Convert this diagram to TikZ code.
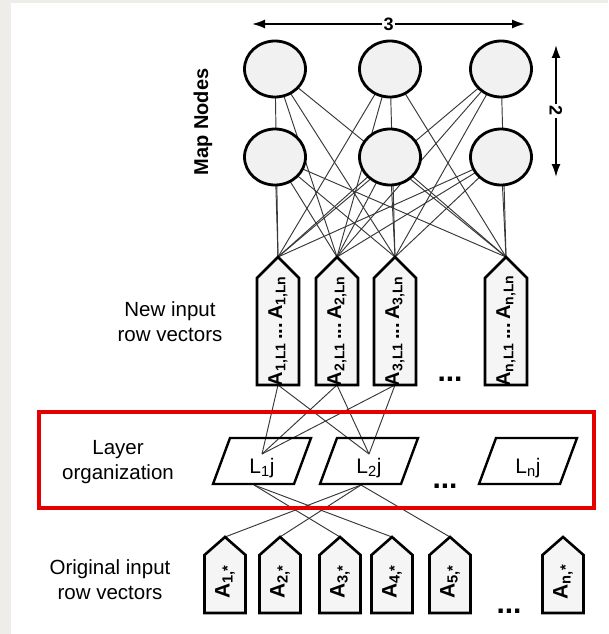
\documentclass[tikz,border=0pt]{standalone}
\usepackage{fontspec}
\setmainfont{Liberation Sans}
\usetikzlibrary{shapes.geometric, arrows.meta, positioning, calc, backgrounds}
\definecolor{framered}{RGB}{228,0,0}
\definecolor{pagegray}{RGB}{238,237,233}
\definecolor{nodegray}{RGB}{241,241,241}
\tikzset{
	mapnode/.style={ellipse, draw, line width=2.8pt, fill=nodegray, minimum width=61pt, minimum height=56pt, inner sep=0pt},
	link/.style={draw, line width=0.95pt, black!78},
	dimarrow/.style={draw, line width=1.8pt, {Latex[length=13pt,width=9pt]}-{Latex[length=13pt,width=9pt]}}
}

\begin{document}
\begin{tikzpicture}[
	x=1pt, y=-1pt,
	% --- Style Definitions ---
	vecbox/.style={line width=2.6pt, fill=nodegray!70},
	layerbox/.style={line width=2.4pt},
	veclabel/.style={rotate=90, font=\fontsize{20}{20}\selectfont\bfseries, inner sep=0pt},
	sidelabel/.style={align=center, font=\fontsize{20.5}{25}\selectfont},
	dots/.style={font=\fontsize{30}{30}\selectfont\bfseries, anchor=base, inner sep=0pt},
	dimlabel/.style={fill=white, inner sep=1.5pt, font=\fontsize{18}{18}\selectfont\bfseries},
	]
	
	\useasboundingbox (0,0) rectangle (608,634);
	
	% --- Page margin ---
	\fill[pagegray] (0,0) rectangle (11,634);
	\fill[pagegray] (0,0) rectangle (608,3);
	
	% --- Map nodes (2 x 3) ---
	\foreach \c/\cx in {1/275, 2/390, 3/501} {
		\node[mapnode] (mt\c) at (\cx,69) {};
		\node[mapnode] (mb\c) at (\cx,157) {};
	}
	
	% --- New input row vectors ---
	\def\Ntop{257}      % apex
	\def\Nshoulder{278} % shoulder
	\def\Nbot{385}      % base
	\foreach \c/\cx/\i in {1/278/1, 2/337/2, 3/395/3, 4/506/n} {
		\draw[vecbox] (\cx-21,\Nshoulder) -- (\cx,\Ntop) coordinate (nt\c) -- (\cx+21,\Nshoulder)
			-- (\cx+21,\Nbot) -- (\cx,\Nbot) coordinate (nb\c) -- (\cx-21,\Nbot) -- cycle;
		\node[veclabel] (nl\c) at (\cx,331) {A\textsubscript{\i,L1}\,...\,A\textsubscript{\i,Ln}};
	}
	\node[dots] (ndots) at (450,381) {...};
	
	% --- Layer organization ---
	\foreach \c/\cx/\i in {1/262/1, 2/369/2, 3/528/n} {
		\draw[layerbox] (\cx-49,484) -- (\cx+32,484) -- (\cx+49,438) -- (\cx-32,438) -- cycle;
		\node[inner sep=1pt, font=\fontsize{21}{21}\selectfont] (ll\c) at (\cx,468) {L\textsubscript{\i}j};
		\coordinate (lt\c) at (\cx,454);
		\coordinate (lb\c) at (\cx-8,485);
	}
	\node[dots] (ldots) at (445,488) {...};
	
	% --- Original input row vectors ---
	\foreach \c/\cx/\i in {1/225/1, 2/280/2, 3/340/3, 4/392/4, 5/450/5, 6/563/n} {
		\draw[vecbox] (\cx-20.5,555) -- (\cx,537) coordinate (ot\c) -- (\cx+20.5,555)
			-- (\cx+20.5,613) -- (\cx-20.5,613) -- cycle;
		\node[veclabel, font=\fontsize{21}{21}\selectfont\bfseries] (ol\c) at (\cx,582) {A\textsubscript{\i,*}};
	}
	\node[dots] (odots) at (509,613) {...};
	
	% --- Connections ---
	\begin{scope}[on background layer]
		\foreach \m in {mt1,mt2,mt3,mb1,mb2,mb3}
			\foreach \c in {1,...,4}
				\draw[link] (\m.center) -- (nt\c);
		\foreach \c in {1,2,3}
			\foreach \l in {1,2}
				\draw[link] (nb\c) -- (lt\l);
		\foreach \o/\l in {3/1, 4/1, 1/2, 2/2, 5/2}
			\draw[link] (lb\l) -- (ot\o);
	\end{scope}
	
	% --- Dimension arrows ---
	\coordinate (wl) at (252,24);
	\coordinate (wr) at (525,24);
	\draw[dimarrow] (wl) -- (wr) node[midway, dimlabel] {3};
	\coordinate (ht) at (556,45);
	\coordinate (hb) at (556,177);
	\draw[dimarrow] (ht) -- (hb) node[midway, dimlabel, rotate=-90] {2};
	
	% --- Side labels ---
	\node[rotate=90, font=\fontsize{20}{20}\selectfont\bfseries] (maplab) at (203,122) {Map Nodes};
	\node[sidelabel] (newlab) at (170,322) {New input\\row vectors};
	\node[sidelabel] (layerlab) at (118,462) {Layer\\organization};
	\node[sidelabel] (origlab) at (110,580) {Original input\\row vectors};
	
	% --- Highlight frame ---
	\draw[framered, line width=4.5pt] (39,412) rectangle (594,508);
	
\end{tikzpicture}
\end{document}
